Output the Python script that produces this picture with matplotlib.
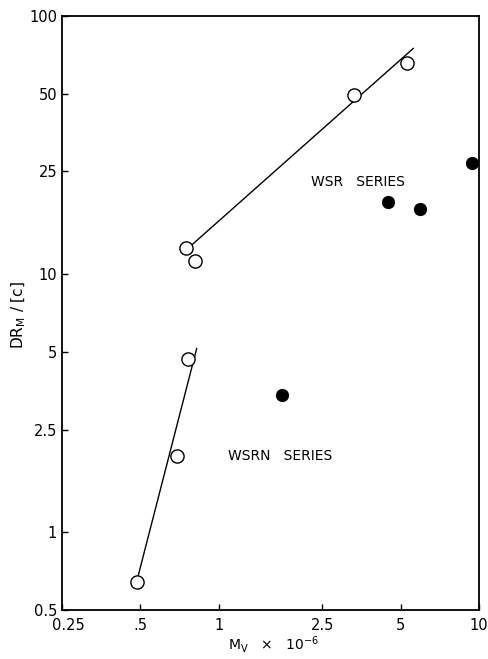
import matplotlib
matplotlib.use("Agg")
import matplotlib.pyplot as plt
import matplotlib.transforms as mtransforms

# WSR series (open circles, upper fit)
wsr_mv = [0.747, 0.811, 3.32, 5.30]
wsr_dr = [12.6, 11.2, 49.4, 65.5]
wsr_fit_mv = [0.787, 5.59]
wsr_fit_dr = [12.96, 74.9]

# WSRN series (open circles, steep fit)
wsrn_mv = [0.484, 0.689, 0.760]
wsrn_dr = [0.642, 1.975, 4.71]
wsrn_fit_mv = [0.491, 0.823]
wsrn_fit_dr = [0.681, 5.15]

# filled points
solid_mv = [1.746, 4.48, 5.95, 9.43]
solid_dr = [3.40, 18.96, 17.86, 27.0]

x_ticks = [0.25, 0.5, 1, 2.5, 5, 10]
x_labels = ["0.25", ".5", "1", "2.5", "5", "10"]
y_ticks = [0.5, 1, 2.5, 5, 10, 25, 50, 100]
y_labels = ["0.5", "1", "2.5", "5", "10", "25", "50", "100"]

plt.rcParams['font.family'] = ['DejaVu Sans']

fig = plt.figure(figsize=(4.88, 6.59), dpi=100)
ax = fig.add_axes([0.127, 0.0744, 0.8546, 0.9013])

ax.plot(wsr_fit_mv, wsr_fit_dr, color="black", lw=1.0)
ax.plot(wsrn_fit_mv, wsrn_fit_dr, color="black", lw=1.0)
ax.plot(wsr_mv, wsr_dr, "o", ms=9.5, mfc="white", mec="black", mew=1.0)
ax.plot(wsrn_mv, wsrn_dr, "o", ms=9.5, mfc="white", mec="black", mew=1.0)
ax.plot(solid_mv, solid_dr, "o", ms=8.5, color="black")

ax.set_xscale("log")
ax.set_yscale("log")
ax.set_xlim(0.25, 10)
ax.set_ylim(0.5, 100)
ax.set_xticks(x_ticks)
ax.set_xticklabels(x_labels)
ax.set_yticks(y_ticks)
ax.set_yticklabels(y_labels)
ax.minorticks_off()
ax.tick_params(direction="in", length=4, width=1, labelsize=10.5)
ax.tick_params(axis="x", pad=6)

# nudge the first x label right so it clears the 0.5 label
first = ax.get_xticklabels()[0]
first.set_transform(first.get_transform() +
                    mtransforms.ScaledTranslation(6 / 100, 0, fig.dpi_scale_trans))

for sp in ax.spines.values():
    sp.set_linewidth(1.3)

ax.text(3.44, 22.7, "WSR   SERIES", fontsize=10, va="center", ha="center")
ax.text(1.09, 1.97, "WSRN   SERIES", fontsize=10, va="center", ha="left")

ax.set_xlabel(r"M$_\mathrm{V}$   $\times$   10$^{-6}$", fontsize=10)
ax.xaxis.set_label_coords(0.508, -0.041)
ax.set_ylabel(r"DR$_\mathrm{M}$ / [c]", fontsize=11)
ax.yaxis.set_label_coords(-0.082, 0.497)

fig.savefig("out.png", dpi=100)
